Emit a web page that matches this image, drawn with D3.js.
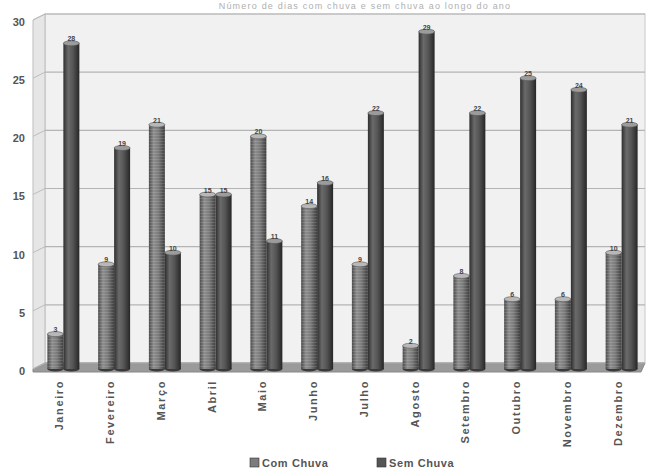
<!DOCTYPE html>
<html>
<head>
<meta charset="utf-8">
<script src="https://cdn.jsdelivr.net/npm/d3@7"></script>
<style>
  html, body { margin: 0; padding: 0; background: #ffffff; }
  svg { display: block; font-family: "Liberation Sans", Arial, sans-serif; }
</style>
</head>
<body>
<svg id="chart" width="648" height="476"></svg>
<script>
// Dias de chuva por mês
const months = ["Janeiro", "Fevereiro", "Março", "Abril", "Maio", "Junho",
                "Julho", "Agosto", "Setembro", "Outubro", "Novembro", "Dezembro"];
const seriesNames = ["Com Chuva", "Sem Chuva"];
const comChuva = [3, 9, 21, 15, 20, 14, 9, 2, 8, 6, 6, 10];
const semChuva = [28, 19, 10, 15, 11, 16, 22, 29, 22, 25, 24, 21];
const yTicks = [0, 5, 10, 15, 20, 25, 30];
const titleText = "Número de dias com chuva e sem chuva ao longo do ano";

const svg = d3.select("#chart");

// 3D depth offset of the back wall
const dx = 12, dy = -6;

const y = d3.scaleLinear().domain([0, 30]).range([369, 20]);
const x = d3.scaleBand().domain(months).range([38, 647])
  .paddingInner(0.37).paddingOuter(0.185);
const xs = d3.scaleBand().domain(seriesNames).range([0, x.bandwidth()]);

const defs = svg.append("defs");
function cyl(id, stops) {
  const g = defs.append("linearGradient").attr("id", id)
    .attr("x1", "0%").attr("x2", "100%").attr("y1", "0%").attr("y2", "0%");
  stops.forEach(s => g.append("stop").attr("offset", s[0]).attr("stop-color", s[1]));
}
cyl("gCom", [["0%", "#4a4a4a"], ["30%", "#8e8e8e"], ["60%", "#7a7a7a"], ["100%", "#3e3e3e"]]);
cyl("gSem", [["0%", "#2e2e2e"], ["30%", "#6a6a6a"], ["60%", "#555555"], ["100%", "#262626"]]);
// fine horizontal texture over the lighter series
const pat = defs.append("pattern").attr("id", "stripes").attr("patternUnits", "userSpaceOnUse")
  .attr("width", 4).attr("height", 3);
pat.append("rect").attr("width", 4).attr("height", 1).attr("fill", "rgba(255,255,255,0.12)");

// background title
svg.append("text").attr("x", 365).attr("y", 9).attr("text-anchor", "middle")
  .attr("font-size", 9).attr("letter-spacing", 1.2).attr("fill", "#b0b0b0").text(titleText);

const wallLeft = 33, wallRight = 645;
const wallTop = y(30), wallBase = y(0);

// back wall
svg.append("rect").attr("x", wallLeft + dx).attr("y", wallTop + dy)
  .attr("width", wallRight - (wallLeft + dx)).attr("height", wallBase - wallTop)
  .attr("fill", "#f1f1f1").attr("stroke", "#c8c8c8");
// left side wall
svg.append("path")
  .attr("d", `M${wallLeft},${wallTop} L${wallLeft + dx},${wallTop + dy} L${wallLeft + dx},${wallBase + dy} L${wallLeft},${wallBase} Z`)
  .attr("fill", "#e6e6e6").attr("stroke", "#bdbdbd");
// floor
svg.append("path")
  .attr("d", `M${wallLeft},${wallBase} L${wallLeft + dx},${wallBase + dy} L${wallRight},${wallBase + dy} L${wallRight - 4},${wallBase + 3} L${wallLeft},${wallBase + 3} Z`)
  .attr("fill", "#9a9a9a").attr("stroke", "#888");

// grid lines on back wall and side wall
const grid = svg.append("g");
yTicks.forEach(t => {
  grid.append("line").attr("x1", wallLeft + dx).attr("x2", wallRight)
    .attr("y1", y(t) + dy).attr("y2", y(t) + dy)
    .attr("stroke", "#b4b4b4").attr("stroke-width", 1.2);
  grid.append("line").attr("x1", wallLeft).attr("x2", wallLeft + dx)
    .attr("y1", y(t)).attr("y2", y(t) + dy)
    .attr("stroke", "#bdbdbd").attr("stroke-width", 1);
});

// y tick labels
svg.append("g").selectAll("text").data(yTicks).join("text")
  .attr("x", 25).attr("y", d => y(d) + 3)
  .attr("text-anchor", "end").attr("dominant-baseline", "middle")
  .attr("font-size", 11).attr("font-weight", "bold").attr("fill", "#555")
  .text(d => d);

// bars as cylinders
const data = months.map((m, i) => ({ m, vals: [
  { s: "Com Chuva", v: comChuva[i], fill: "url(#gCom)", cap: "#b8b8b8" },
  { s: "Sem Chuva", v: semChuva[i], fill: "url(#gSem)", cap: "#9c9c9c" }
]}));
const bw = xs.bandwidth();
const ry = 2.5;
const groups = svg.append("g").selectAll("g").data(data).join("g")
  .attr("transform", d => `translate(${x(d.m)},0)`);
const bars = groups.selectAll("g").data(d => d.vals).join("g")
  .attr("transform", d => `translate(${xs(d.s)},0)`);
bars.append("ellipse").attr("cx", bw / 2).attr("cy", y(0)).attr("rx", bw / 2).attr("ry", ry)
  .attr("fill", "#3a3a3a");
bars.append("rect").attr("x", 0).attr("width", bw)
  .attr("y", d => y(d.v)).attr("height", d => y(0) - y(d.v))
  .attr("fill", d => d.fill);
bars.filter(d => d.s === "Com Chuva").append("rect").attr("x", 0).attr("width", bw)
  .attr("y", d => y(d.v)).attr("height", d => y(0) - y(d.v))
  .attr("fill", "url(#stripes)");
bars.append("ellipse").attr("cx", bw / 2).attr("cy", d => y(d.v)).attr("rx", bw / 2).attr("ry", ry)
  .attr("fill", d => d.cap).attr("stroke", "#555").attr("stroke-width", 0.6);
bars.append("text").attr("x", bw / 2).attr("y", d => y(d.v) - 2)
  .attr("text-anchor", "middle").attr("font-size", 7).attr("font-weight", "bold")
  .attr("fill", "#444").text(d => d.v);

// month labels, rotated
svg.append("g").selectAll("text").data(months).join("text")
  .attr("transform", d => `translate(${x(d) + x.bandwidth() / 2 - 3},${380}) rotate(-90)`)
  .attr("text-anchor", "end").attr("dominant-baseline", "middle")
  .attr("font-size", 11).attr("letter-spacing", 1.6).attr("font-weight", "bold")
  .attr("fill", "#555")
  .text(d => d);

// legend
const legend = [
  { name: "Com Chuva", fill: "#7c7c7c", x: 250 },
  { name: "Sem Chuva", fill: "#555555", x: 377 }
];
const lg = svg.append("g").selectAll("g").data(legend).join("g")
  .attr("transform", d => `translate(${d.x},458)`);
lg.append("rect").attr("width", 9).attr("height", 9).attr("fill", d => d.fill)
  .attr("stroke", "#333").attr("stroke-width", 0.6);
lg.append("text").attr("x", 12).attr("y", 8.5)
  .attr("font-size", 11).attr("letter-spacing", 0.6).attr("font-weight", "bold")
  .attr("fill", "#555")
  .text(d => d.name);
</script>
</body>
</html>
